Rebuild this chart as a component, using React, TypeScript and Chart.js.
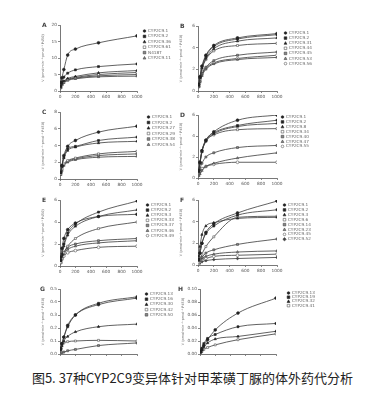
import React, { useEffect, useRef } from "react";
import { Chart, registerables } from "chart.js";
Chart.register(...registerables);

const xValues = [10, 25, 50, 100, 200, 500, 1000];
const xTicks = [0, 200, 400, 600, 800, 1000];
const yTitle = "V (pmol·min⁻¹·pmol⁻¹ P450)";
const caption = "图5. 37种CYP2C9变异体针对甲苯磺丁脲的体外药代分析";

const labelsA = ["CYP2C9.1", "CYP2C9.2", "CYP2C9.36", "CYP2C9.61", "N418T", "CYP2C9.11"];
const valuesA = [
  [2.5, 4.0, 6.5, 10.9, 12.7, 14.6, 16.7],
  [1.5, 2.8, 4.2, 5.4, 6.4, 7.4, 8.2],
  [1.2, 2.2, 3.0, 3.8, 4.4, 5.5, 6.2],
  [1.1, 2.0, 2.8, 3.5, 4.1, 5.0, 5.6],
  [1.0, 1.9, 2.7, 3.4, 3.9, 4.6, 5.0],
  [0.9, 1.8, 2.5, 3.2, 3.7, 4.3, 4.5],
];
const labelsB = ["CYP2C9.1", "CYP2C9.2", "CYP2C9.31", "CYP2C9.44", "CYP2C9.45", "CYP2C9.53", "CYP2C9.56"];
const valuesB = [
  [0.6, 1.3, 2.3, 3.3, 4.2, 4.9, 5.3],
  [0.6, 1.3, 2.2, 3.2, 4.1, 4.8, 5.2],
  [0.5, 1.2, 2.1, 3.0, 3.9, 4.6, 4.9],
  [0.5, 1.1, 2.0, 2.9, 3.7, 4.2, 4.4],
  [0.4, 0.9, 1.6, 2.2, 2.8, 3.3, 3.6],
  [0.4, 0.8, 1.4, 2.0, 2.5, 2.9, 3.1],
  [0.4, 0.9, 1.5, 2.1, 2.6, 3.0, 3.3],
];
const labelsC = ["CYP2C9.1", "CYP2C9.2", "CYP2C9.27", "CYP2C9.29", "CYP2C9.38", "CYP2C9.54"];
const valuesC = [
  [0.8, 1.6, 2.8, 3.9, 4.6, 5.6, 6.3],
  [0.8, 1.6, 2.6, 3.6, 3.9, 4.6, 5.0],
  [0.7, 1.5, 2.5, 3.4, 3.8, 4.3, 4.5],
  [0.6, 1.2, 1.8, 2.2, 2.5, 3.0, 3.3],
  [0.6, 1.1, 1.7, 2.1, 2.4, 2.8, 3.0],
  [0.5, 1.0, 1.6, 2.0, 2.3, 2.6, 2.7],
];
const labelsD = ["CYP2C9.1", "CYP2C9.2", "CYP2C9.8", "CYP2C9.34", "CYP2C9.40", "CYP2C9.47", "CYP2C9.55"];
const valuesD = [
  [0.7, 1.5, 2.6, 3.6, 4.4, 5.5, 6.0],
  [0.7, 1.5, 2.6, 3.6, 4.3, 5.0, 5.5],
  [0.6, 1.4, 2.5, 3.5, 4.2, 4.9, 5.2],
  [0.6, 1.4, 2.5, 3.5, 4.1, 4.6, 4.7],
  [0.4, 0.9, 1.4, 2.0, 2.4, 2.9, 3.1],
  [0.2, 0.4, 0.7, 1.1, 1.4, 1.9, 2.4],
  [0.3, 0.6, 0.9, 1.1, 1.3, 1.5, 1.5],
];
const labelsE = ["CYP2C9.1", "CYP2C9.2", "CYP2C9.3", "CYP2C9.33", "CYP2C9.37", "CYP2C9.46", "CYP2C9.49"];
const valuesE = [
  [0.8, 1.6, 2.5, 3.3, 3.9, 4.5, 4.7],
  [0.5, 1.1, 2.0, 3.0, 3.8, 4.9, 5.9],
  [0.5, 1.0, 1.8, 2.8, 3.6, 4.5, 5.1],
  [0.3, 0.7, 1.2, 1.8, 2.5, 3.4, 4.0],
  [0.4, 0.8, 1.2, 1.7, 2.0, 2.3, 2.5],
  [0.3, 0.7, 1.1, 1.5, 1.8, 2.1, 2.3],
  [0.3, 0.6, 0.9, 1.2, 1.4, 1.7, 1.8],
];
const labelsF = ["CYP2C9.1", "CYP2C9.2", "CYP2C9.3", "CYP2C9.6", "CYP2C9.14", "CYP2C9.23", "CYP2C9.45", "CYP2C9.52"];
const valuesF = [
  [0.5, 1.1, 2.0, 3.0, 3.8, 4.8, 5.9],
  [0.5, 1.1, 2.0, 2.9, 3.6, 4.6, 5.1],
  [0.8, 1.7, 2.8, 3.6, 3.9, 4.3, 4.4],
  [0.2, 0.5, 1.0, 1.7, 2.6, 4.4, 4.5],
  [0.2, 0.4, 0.7, 1.1, 1.4, 1.9, 2.4],
  [0.2, 0.4, 0.6, 0.8, 1.0, 1.2, 1.3],
  [0.1, 0.3, 0.5, 0.6, 0.8, 0.9, 1.0],
  [0.1, 0.2, 0.3, 0.4, 0.5, 0.6, 0.7],
];
const labelsG = ["CYP2C9.13", "CYP2C9.16", "CYP2C9.30", "CYP2C9.42", "CYP2C9.50"];
const valuesG = [
  [0.04, 0.08, 0.13, 0.22, 0.3, 0.38, 0.43],
  [0.04, 0.08, 0.13, 0.21, 0.3, 0.39, 0.44],
  [0.03, 0.06, 0.1, 0.135, 0.17, 0.21, 0.23],
  [0.04, 0.07, 0.085, 0.095, 0.1, 0.105, 0.1],
  [0.005, 0.01, 0.015, 0.025, 0.035, 0.065, 0.085],
];
const labelsH = ["CYP2C9.13", "CYP2C9.19", "CYP2C9.32", "CYP2C9.41"];
const valuesH = [
  [0.003, 0.007, 0.013, 0.022, 0.037, 0.063, 0.086],
  [0.004, 0.009, 0.016, 0.024, 0.03, 0.042, 0.047],
  [0.003, 0.006, 0.011, 0.017, 0.023, 0.027, 0.035],
  [0.002, 0.004, 0.007, 0.01, 0.014, 0.022, 0.031],
];

const styles = [
  { shape: "circle", fill: "#222", stroke: "#222" },
  { shape: "rect", fill: "#222", stroke: "#222" },
  { shape: "triangle", fill: "#222", stroke: "#222" },
  { shape: "rect", fill: "#fff", stroke: "#555" },
  { shape: "rect", fill: "#888", stroke: "#444" },
  { shape: "triangle", fill: "#888", stroke: "#444" },
  { shape: "circle", fill: "#fff", stroke: "#555" },
  { shape: "rectRot", fill: "#444", stroke: "#444" },
];

function drawShape(ctx: CanvasRenderingContext2D, shape: string, x: number, y: number, r: number) {
  ctx.beginPath();
  if (shape === "circle") ctx.arc(x, y, r, 0, Math.PI * 2);
  else if (shape === "rect") ctx.rect(x - r, y - r, 2 * r, 2 * r);
  else if (shape === "triangle") {
    ctx.moveTo(x, y - r * 1.2);
    ctx.lineTo(x + r * 1.1, y + r * 0.8);
    ctx.lineTo(x - r * 1.1, y + r * 0.8);
    ctx.closePath();
  } else {
    ctx.moveTo(x, y - r * 1.3);
    ctx.lineTo(x + r * 1.3, y);
    ctx.lineTo(x, y + r * 1.3);
    ctx.lineTo(x - r * 1.3, y);
    ctx.closePath();
  }
  ctx.fill();
  ctx.stroke();
}

const sideLegend = {
  id: "sideLegend",
  afterDraw(chart: any, _args: any, opts: any) {
    const ctx = chart.ctx as CanvasRenderingContext2D;
    ctx.save();
    ctx.font = '4.2px "DejaVu Sans"';
    ctx.textBaseline = "middle";
    chart.data.datasets.forEach((ds: any, i: number) => {
      const st = styles[i % styles.length];
      const y = opts.y + i * opts.step;
      ctx.fillStyle = st.fill;
      ctx.strokeStyle = st.stroke;
      ctx.lineWidth = 0.6;
      drawShape(ctx, st.shape, opts.x + 1.5, y, 1.3);
      ctx.fillStyle = "#666";
      ctx.fillText(ds.label, opts.x + 5, y);
    });
    ctx.font = 'bold 6px "DejaVu Sans"';
    ctx.fillStyle = "#444";
    ctx.textBaseline = "middle";
    ctx.fillText(opts.letter, opts.letterX, opts.letterY);
    ctx.restore();
  },
};

type Cfg = {
  letter: string; labels: string[]; values: number[][]; yMax: number; yStep: number; dec: number;
  L: number; T: number; R: number; B: number; lx: number; ly: number; ls: number; showX: boolean; letterX: number;
};

const panels: Cfg[] = [
  { letter: "A", labels: labelsA, values: valuesA, yMax: 20, yStep: 5, dec: 0, L: 60, T: 25, R: 137, B: 91, lx: 143, ly: 31, ls: 5.4, showX: true, letterX: 8 },
  { letter: "B", labels: labelsB, values: valuesB, yMax: 6, yStep: 2, dec: 0, L: 198, T: 26, R: 277, B: 91, lx: 284, ly: 33, ls: 5.1, showX: true, letterX: 8 },
  { letter: "C", labels: labelsC, values: valuesC, yMax: 8, yStep: 2, dec: 0, L: 60, T: 112, R: 137, B: 179, lx: 147, ly: 117, ls: 5.5, showX: true, letterX: 8 },
  { letter: "D", labels: labelsD, values: valuesD, yMax: 6, yStep: 2, dec: 0, L: 198, T: 115, R: 277, B: 178, lx: 281, ly: 117, ls: 4.9, showX: true, letterX: 8 },
  { letter: "E", labels: labelsE, values: valuesE, yMax: 6, yStep: 2, dec: 0, L: 60, T: 200, R: 137, B: 266, lx: 146, ly: 205, ls: 5.1, showX: true, letterX: 8 },
  { letter: "F", labels: labelsF, values: valuesF, yMax: 6, yStep: 2, dec: 0, L: 198, T: 200, R: 277, B: 265, lx: 283, ly: 205, ls: 4.9, showX: true, letterX: 8 },
  { letter: "G", labels: labelsG, values: valuesG, yMax: 0.5, yStep: 0.1, dec: 1, L: 60, T: 289, R: 137, B: 354, lx: 145, ly: 294, ls: 5.2, showX: false, letterX: 6 },
  { letter: "H", labels: labelsH, values: valuesH, yMax: 0.1, yStep: 0.02, dec: 2, L: 200, T: 289, R: 276, B: 354, lx: 287, ly: 293, ls: 4.2, showX: false, letterX: 4 },
];

function Panel({ cfg }: { cfg: Cfg }) {
  const ref = useRef<HTMLCanvasElement>(null);
  const left = cfg.L - 26;
  const top = cfg.T - 8;
  const width = cfg.lx + 44 - left;
  const height = cfg.B - cfg.T + 8 + 11;
  useEffect(() => {
    if (!ref.current) return;
    const tickFont = { family: "DejaVu Sans", size: 4.3 };
    const chart = new Chart(ref.current, {
      type: "line",
      data: {
        datasets: cfg.labels.map((lab, i) => {
          const st = styles[i % styles.length];
          return {
            label: lab,
            data: xValues.map((x, j) => ({ x, y: cfg.values[i][j] })),
            borderColor: "#3a3a3a",
            borderWidth: 0.8,
            pointStyle: st.shape as any,
            pointRadius: 1.4,
            pointBackgroundColor: st.fill,
            pointBorderColor: st.stroke,
            pointBorderWidth: 0.6,
            cubicInterpolationMode: "monotone" as const,
            fill: false,
          };
        }),
      },
      options: {
        responsive: false,
        animation: false,
        devicePixelRatio: 1,
        layout: { padding: { left: 7, top: 8, right: width - (cfg.R - left), bottom: 0 } },
        scales: {
          x: {
            type: "linear",
            min: 0,
            max: 1000,
            afterBuildTicks: (s: any) => { s.ticks = xTicks.map((v) => ({ value: v })); },
            afterFit: (s: any) => { s.height = 11; },
            ticks: {
              display: cfg.showX,
              font: tickFont,
              color: "#555",
              padding: 1,
              maxRotation: 0,
              autoSkip: false,
              callback: (v: any) => String(v),
            },
            grid: { drawOnChartArea: false, tickLength: 2, color: "#555", lineWidth: 0.7 },
            border: { color: "#555", width: 0.8 },
          },
          y: {
            min: 0,
            max: cfg.yMax,
            afterFit: (s: any) => { s.width = 19; },
            ticks: {
              stepSize: cfg.yStep,
              font: tickFont,
              color: "#555",
              padding: 1,
              callback: (v: any) => Number(v).toFixed(cfg.dec),
            },
            title: { display: true, text: yTitle, font: { family: "DejaVu Sans", size: 3.4 }, color: "#666", padding: 0 },
            grid: { drawOnChartArea: false, tickLength: 2, color: "#555", lineWidth: 0.7 },
            border: { color: "#555", width: 0.8 },
          },
        },
        plugins: {
          legend: { display: false },
          tooltip: { enabled: false },
          sideLegend: { x: cfg.lx - left, y: cfg.ly - top, step: cfg.ls, letter: cfg.letter, letterX: cfg.letterX, letterY: 8 },
        } as any,
      },
      plugins: [sideLegend],
    });
    return () => chart.destroy();
  }, []);
  return (
    <canvas
      ref={ref}
      width={width}
      height={height}
      style={{ position: "absolute", left, top, width, height }}
    />
  );
}

export default function App() {
  return (
    <div style={{ position: "fixed", left: 0, top: 0, width: 378, height: 395, background: "#fff", overflow: "hidden" }}>
      {panels.map((p) => (
        <Panel key={p.letter} cfg={p} />
      ))}
      <div
        style={{
          position: "absolute",
          left: 0,
          top: 368,
          width: 385,
          textAlign: "center",
          fontFamily: '"Noto Sans CJK SC", sans-serif',
          fontSize: 13,
          color: "#222",
          whiteSpace: "nowrap",
        }}
      >
        {caption}
      </div>
    </div>
  );
}
